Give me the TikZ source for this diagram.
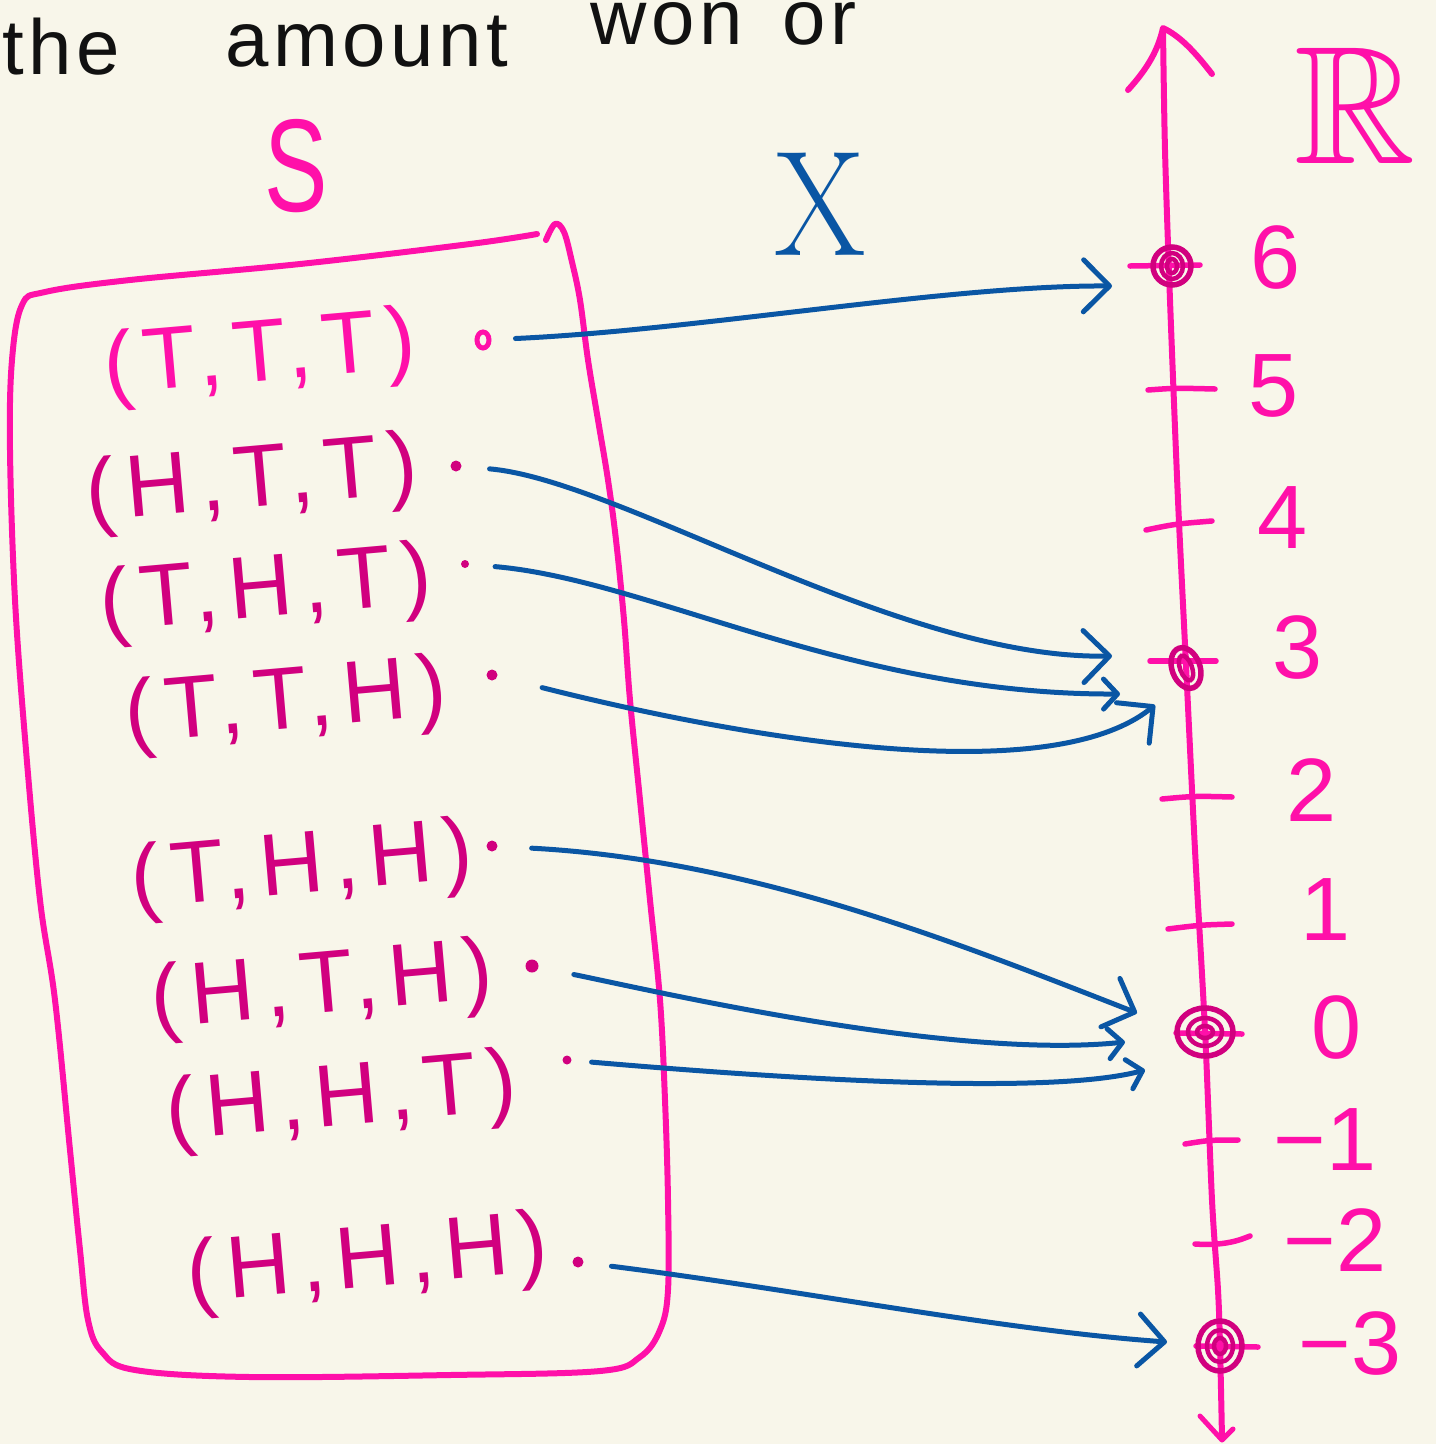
\documentclass[tikz,border=0pt]{standalone}
\usepackage[no-math]{fontspec}
\usepackage{amssymb}
\setmainfont{Liberation Sans}
\newfontfamily\serifx{Latin Modern Roman}
\usetikzlibrary{arrows.meta,shapes.geometric}

\definecolor{paper}{HTML}{F8F6EA}
\definecolor{hot}{HTML}{FF10A9}
\definecolor{plum}{HTML}{D1007F}
\definecolor{ink}{HTML}{0A56A4}
\definecolor{pencil}{HTML}{111111}

\tikzset{
  pinkline/.style={draw=hot, line width=6pt, line cap=round, line join=round},
  tickmark/.style={draw=hot, line width=5.5pt, line cap=round},
  tuple/.style={text=plum, font=\fontsize{88}{88}\selectfont\addfontfeatures{LetterSpace=12},
    inner sep=0pt, rotate=5},
  numlabel/.style={text=hot, font=\fontsize{90}{90}\selectfont, inner sep=0pt},
  elem/.style={circle, fill=plum, inner sep=0pt, minimum size=11pt},
  hit/.style={ellipse, draw=plum, line width=5.5pt, inner sep=0pt},
  mapto/.style={draw=ink, line width=5pt, line cap=round,
    -{Straight Barb[length=26pt, width=52pt, line width=5pt, round]}},
  maptosmall/.style={draw=ink, line width=5pt, line cap=round,
    -{Straight Barb[length=14pt, width=30pt, line width=5pt, round]}},
}

\begin{document}
\begin{tikzpicture}[x=1pt, y=-1pt]
\useasboundingbox (0,0) rectangle (1436,1444);
\fill[paper] (0,0) rectangle (1436,1444);
\clip (0,0) rectangle (1436,1444);

% heading, running off the top edge
\node[anchor=base west, inner sep=0pt, text=pencil, font=\fontsize{78}{78}\selectfont\addfontfeatures{LetterSpace=6}] (h1) at (2,74) {the};
\node[anchor=base west, inner sep=0pt, text=pencil, font=\fontsize{78}{78}\selectfont\addfontfeatures{LetterSpace=6}] (h2) at (225,66) {amount};
\node[anchor=base west, inner sep=0pt, text=pencil, font=\fontsize{78}{78}\selectfont\addfontfeatures{LetterSpace=6}] (h3) at (590,44) {won\hspace{40pt}or};

% sample space and the map
\node[text=hot, font=\fontsize{132}{132}\selectfont, inner sep=0pt, xscale=0.72] (S) at (296,166) {S};
\node[text=ink, font=\serifx\fontsize{150}{150}\selectfont, inner sep=0pt, xscale=0.88] (X) at (820,204) {X};
\node[text=hot, inner sep=0pt] (R) at (1355,106) {\fontsize{168}{168}\selectfont$\mathbb{R}$};

% outline of S
\draw[pinkline] plot[smooth, tension=0.6] coordinates {
  (537,234) (470,244) (300,264) (130,280) (45,292) (22,305) (12,360) (10,450) (15,600)
  (26,750) (40,900) (55,1000) (70,1150) (80,1250) (88,1320) (102,1352) (135,1370)
  (250,1377) (450,1375) (600,1371) (640,1357) (660,1330) (668,1290) (668,1200)
  (665,1100) (660,1000) (650,900) (640,800) (630,700) (624,620) (616,540) (608,480)
  (598,420) (588,360) (580,300) (572,262) (564,232) (555,224) (546,240)};

% outcomes
\node[tuple, text=hot] (t1) at (260,358) {(T,T,T)};
\node[tuple] (t2) at (252,484) {(H,T,T)};
\node[tuple] (t3) at (266,594) {(T,H,T)};
\node[tuple] (t4) at (286,706) {(T,T,H)};
\node[tuple] (t5) at (302,870) {(T,H,H)};
\node[tuple] (t6) at (322,990) {(H,T,H)};
\node[tuple] (t7) at (342,1102) {(H,H,T)};
\node[tuple] (t8) at (368,1264) {(H,H,H)};

\node[ellipse, draw=hot, line width=5pt, minimum width=12pt, minimum height=16pt, inner sep=0pt] (d1) at (483,340) {};
\node[elem] (d2) at (456,466) {};
\node[elem, minimum size=8pt] (d3) at (465,564) {};
\node[elem] (d4) at (492,675) {};
\node[elem] (d5) at (492,846) {};
\node[elem, minimum size=13pt] (d6) at (532,966) {};
\node[elem, minimum size=9pt] (d7) at (567,1060) {};
\node[elem] (d8) at (578,1262) {};

% the real line
\draw[pinkline] plot[smooth] coordinates {(1163,30) (1165,150) (1170,300) (1178,500)
  (1186,665) (1195,850) (1205,1030) (1212,1200) (1218,1290) (1220,1345) (1222,1438)};
\draw[pinkline] (1128,90) .. controls (1148,68) and (1158,50) .. (1163,28)
  .. controls (1180,36) and (1195,52) .. (1212,74);
\draw[pinkline, line width=5pt] (1200,1416) -- (1222,1440) -- (1233,1429);

\coordinate (k6) at (1172,266);
\coordinate (k3) at (1186,662);
\coordinate (k0) at (1205,1032);
\coordinate (km3) at (1220,1346);

\draw[tickmark] (1130,266) -- (1200,265);
\draw[tickmark] (1148,390) .. controls (1175,388) .. (1215,389);
\draw[tickmark] (1146,530) .. controls (1175,524) .. (1212,521);
\draw[tickmark] (1150,661) -- (1216,661);
\draw[tickmark] (1162,799) .. controls (1195,796) .. (1232,797);
\draw[tickmark] (1168,929) .. controls (1200,925) .. (1232,924);
\draw[tickmark] (1176,1033) -- (1242,1034);
\draw[tickmark] (1185,1144) .. controls (1210,1140) .. (1238,1140);
\draw[tickmark] (1195,1244) .. controls (1225,1246) and (1240,1240) .. (1250,1236);
\draw[tickmark] (1196,1346) -- (1258,1347);

\node[numlabel] (l6) at (1276,258) {6};
\node[numlabel] (l5) at (1274,386) {5};
\node[numlabel] (l4) at (1283,518) {4};
\node[numlabel] (l3) at (1298,648) {3};
\node[numlabel] (l2) at (1312,790) {2};
\node[numlabel] (l1) at (1318,910) {\,1};
\node[numlabel] (l0) at (1337,1028) {0};
\node[numlabel] (lm1) at (1325,1140) {−1};
\node[numlabel] (lm2) at (1335,1240) {−2};
\node[numlabel] (lm3) at (1350,1344) {−3};

% values taken
\node[hit, minimum width=38pt, minimum height=38pt] (v6) at (k6) {};
\draw[plum, line width=4.5pt] (k6) ellipse (11pt and 13pt) (k6) ellipse (5pt and 7pt);
\node[hit, minimum width=28pt, minimum height=42pt, rotate=20] (v3) at (1186,668) {};
\draw[plum, line width=4.5pt, rotate around={20:(1186,668)}] (1186,668) ellipse (6pt and 13pt);
\node[hit, minimum width=56pt, minimum height=48pt] (v0) at (k0) {};
\draw[plum, line width=4.5pt] (k0) ellipse (17pt and 14pt) (k0) ellipse (8pt and 6pt);
\node[hit, minimum width=44pt, minimum height=50pt] (vm3) at (km3) {};
\draw[plum, line width=4.5pt] (km3) ellipse (13pt and 16pt) (km3) ellipse (6pt and 8pt);

% X maps each outcome to a value
\coordinate (e1) at (1112,286);
\coordinate (e2) at (1112,656);
\coordinate (e3) at (1120,694);
\coordinate (e4) at (1155,705);
\coordinate (e5) at (1137,1013);
\coordinate (e6) at (1125,1042);
\coordinate (e7) at (1145,1070);
\coordinate (e8) at (1167,1342);

\draw[mapto, shorten <=24pt] (d1) .. controls (700,330) and (950,285) .. (e1);
\draw[mapto, shorten <=28pt] (d2) .. controls (620,480) and (900,660) .. (e2);
\draw[maptosmall, shorten <=26pt] (d3) .. controls (650,580) and (850,695) .. (e3);
\draw[mapto, shorten <=46pt] (d4) .. controls (750,740) and (1050,790) .. (e4);
\draw[mapto, shorten <=34pt] (d5) .. controls (750,860) and (950,940) .. (e5);
\draw[maptosmall, shorten <=36pt] (d6) .. controls (650,990) and (950,1060) .. (e6);
\draw[maptosmall, shorten <=20pt] (d7) .. controls (800,1080) and (1050,1095) .. (e7);
\draw[mapto, shorten <=28pt] (d8) .. controls (800,1290) and (1000,1330) .. (e8);
\end{tikzpicture}
\end{document}
